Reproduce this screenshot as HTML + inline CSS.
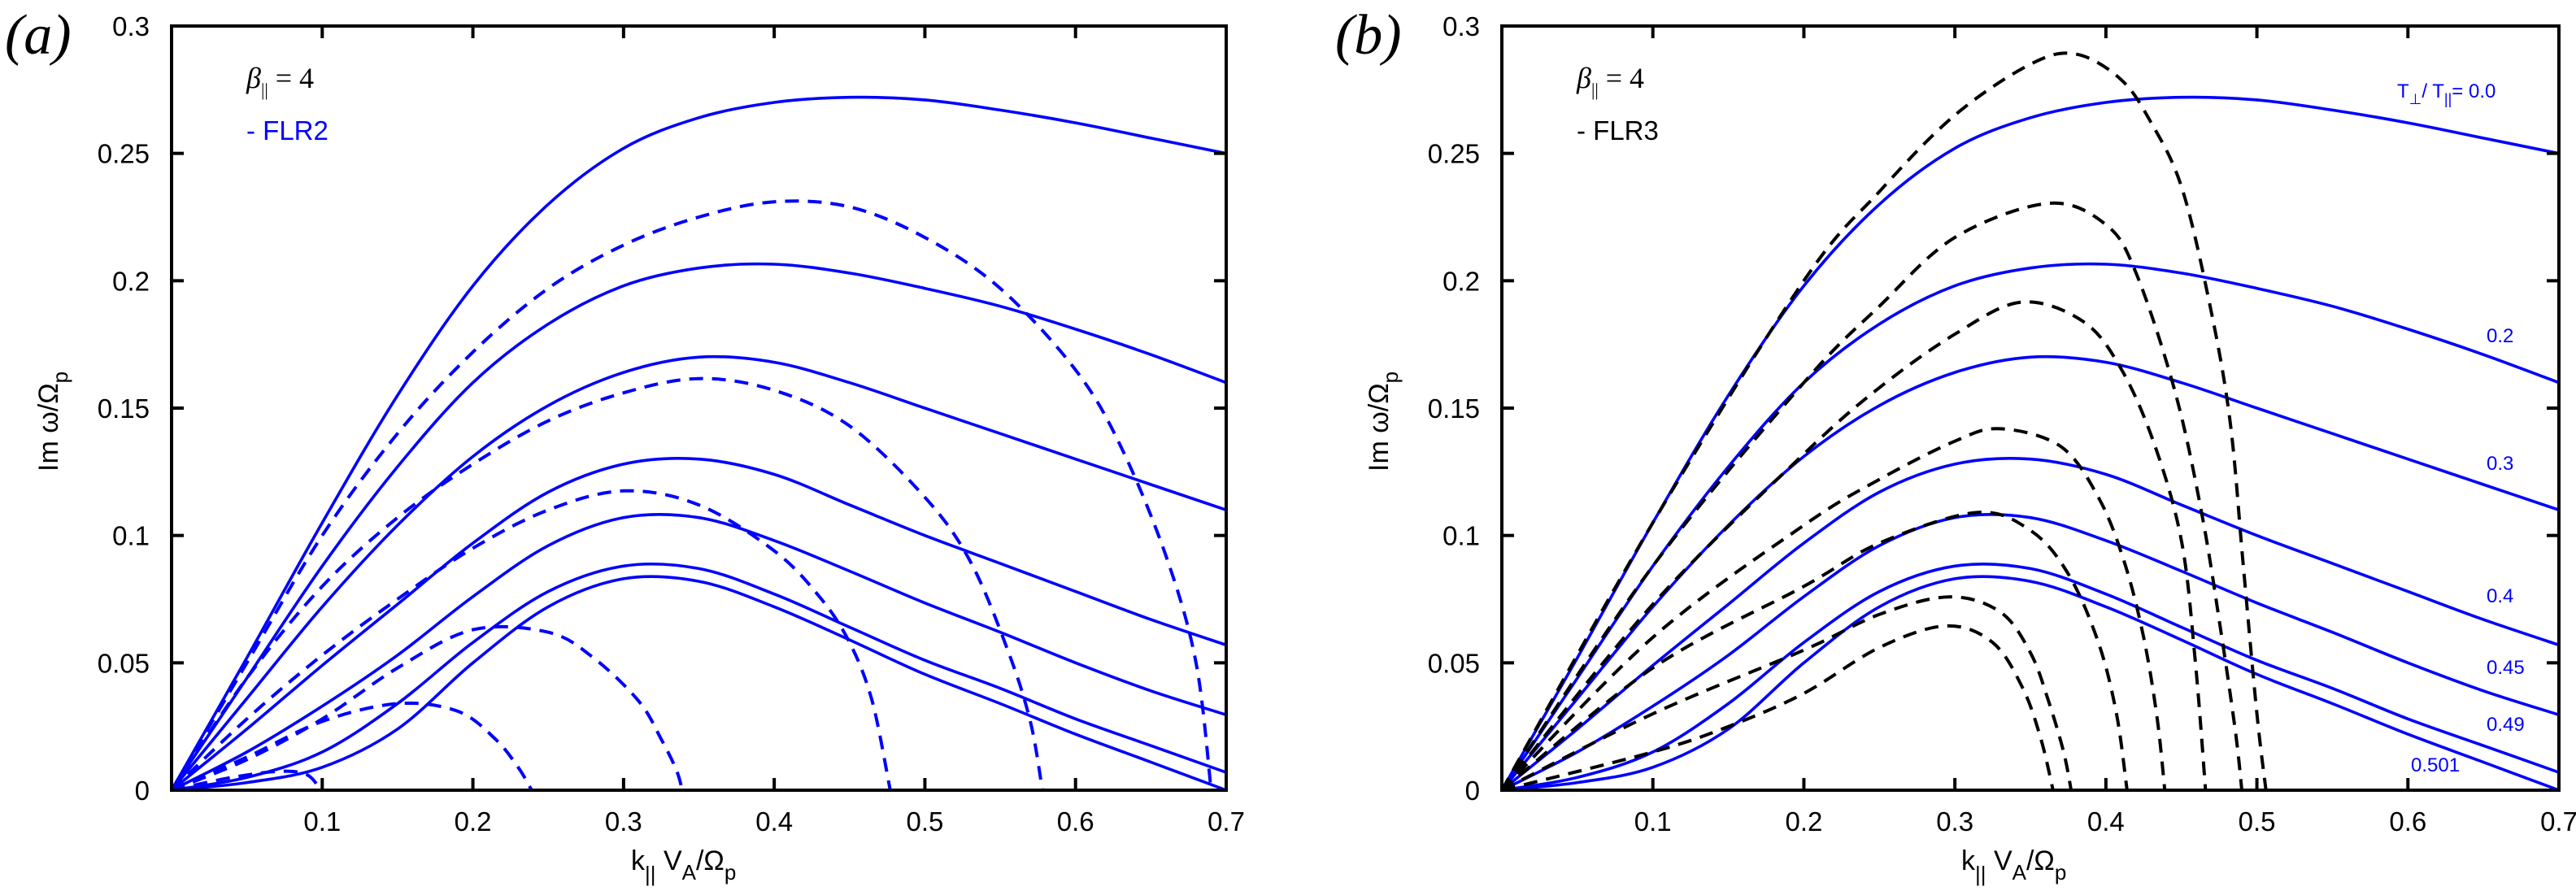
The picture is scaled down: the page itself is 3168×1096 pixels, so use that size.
<!DOCTYPE html>
<html><head><meta charset="utf-8"><style>
html,body{margin:0;padding:0;background:#fff;}
svg{display:block;}
.tk{font-family:"Liberation Sans Narrow","Liberation Sans",sans-serif;font-size:33px;fill:#000;}
.ttl{font-family:"Liberation Sans Narrow","Liberation Sans",sans-serif;font-size:34px;fill:#000;}
.lab{font-family:"Liberation Sans Narrow","Liberation Sans",sans-serif;font-size:24px;fill:#0000ff;}
.serif{font-family:"Liberation Serif",serif;font-style:italic;}
</style></head><body>
<svg id="fig" width="3168" height="1096" viewBox="0 0 3168 1096" xmlns="http://www.w3.org/2000/svg">
<g id="pa"></g>
<g id="pb"></g>
</svg>
<script>
const kGrid = [0,0.05,0.1,0.15,0.2,0.25,0.3,0.35,0.4,0.45,0.5,0.55,0.6,0.65,0.7];
const solidT00 = [0,0.052,0.105,0.155,0.198,0.230,0.252,0.264,0.270,0.272,0.271,0.267,0.262,0.256,0.25];
const solidT02 = [0,0.044,0.088,0.127,0.16,0.183,0.198,0.205,0.2065,0.203,0.197,0.19,0.181,0.171,0.16];
const solidT03 = [0,0.036,0.072,0.104,0.131,0.151,0.164,0.17,0.168,0.16,0.15,0.14,0.13,0.12,0.11];
const solidT04 = [0,0.024,0.049,0.073,0.097,0.117,0.128,0.13,0.124,0.112,0.1,0.089,0.078,0.067,0.057];
const solidT045 = [0,0.015,0.033,0.053,0.076,0.096,0.107,0.107,0.098,0.086,0.0735,0.062,0.05,0.039,0.0296];
const solidT049 = [0,0.005,0.015,0.034,0.058,0.078,0.088,0.087,0.077,0.064,0.051,0.04,0.028,0.0175,0.007];
const solidT0501 = [0,0.003,0.009,0.024,0.05,0.072,0.083,0.082,0.072,0.059,0.0455,0.034,0.022,0.011,0];
const solidNames = ['0.0','0.2','0.3','0.4','0.45','0.49','0.501'];
const solidSeries = [solidT00,solidT02,solidT03,solidT04,solidT045,solidT049,solidT0501];

// FLR2 (panel a, blue dashed)
const flr2K1 = [0,0.05,0.1,0.15,0.2,0.25,0.3,0.35,0.4,0.45,0.5,0.55,0.6,0.63,0.66,0.68,0.69];
const flr2V1 = [0,0.05,0.1,0.14,0.172,0.197,0.214,0.225,0.231,0.229,0.217,0.197,0.165,0.135,0.092,0.05,0];
const flr2K2 = [0,0.05,0.1,0.15,0.2,0.25,0.3,0.35,0.4,0.45,0.5,0.53,0.555,0.57,0.578];
const flr2V2 = [0,0.044,0.08,0.107,0.128,0.145,0.156,0.1616,0.157,0.143,0.115,0.09,0.055,0.027,0];
const flr2K3 = [0,0.05,0.1,0.15,0.2,0.25,0.3,0.35,0.4,0.43,0.45,0.465,0.477];
const flr2V3 = [0,0.028,0.053,0.075,0.095,0.11,0.1175,0.112,0.094,0.076,0.058,0.035,0];
const flr2K4 = [0,0.05,0.1,0.15,0.2,0.25,0.28,0.31,0.325,0.335,0.339];
const flr2V4 = [0,0.012,0.028,0.048,0.063,0.062,0.052,0.035,0.02,0.008,0];
const flr2K5 = [0,0.05,0.1,0.15,0.19,0.215,0.23,0.239];
const flr2V5 = [0,0.013,0.027,0.034,0.031,0.02,0.009,0];
const flr2K6 = [0,0.04,0.072,0.09,0.099];
const flr2V6 = [0,0.005,0.0074,0.006,0];
const flr2K7 = [0,0.7];
const flr2V7 = [0,0];
const flr2K = [flr2K1,flr2K2,flr2K3,flr2K4,flr2K5,flr2K6,flr2K7];
const flr2V = [flr2V1,flr2V2,flr2V3,flr2V4,flr2V5,flr2V6,flr2V7];

// FLR3 (panel b, black dashed)
const flr3K1 = [0,0.1,0.2,0.25,0.3,0.35,0.38,0.41,0.43,0.45,0.468,0.482,0.491,0.5,0.506];
const flr3V1 = [0,0.105,0.2,0.235,0.265,0.285,0.289,0.279,0.262,0.237,0.193,0.146,0.088,0.03,0];
const flr3K2 = [0,0.1,0.2,0.25,0.3,0.362,0.4,0.42,0.446,0.464,0.477,0.486,0.49];
const flr3V2 = [0,0.088,0.16,0.19,0.217,0.2304,0.222,0.203,0.156,0.107,0.059,0.022,0];
const flr3K3 = [0,0.1,0.2,0.25,0.3,0.344,0.385,0.41,0.432,0.45,0.459,0.466];
const flr3V3 = [0,0.073,0.132,0.158,0.179,0.1916,0.184,0.1655,0.136,0.098,0.052,0];
const flr3K4 = [0,0.1,0.2,0.25,0.3,0.33,0.37,0.395,0.412,0.425,0.434,0.439];
const flr3V4 = [0,0.06,0.104,0.122,0.137,0.1419,0.135,0.115,0.09,0.06,0.028,0];
const flr3K5 = [0,0.1,0.2,0.25,0.314,0.35,0.375,0.395,0.407,0.414];
const flr3V5 = [0,0.048,0.08,0.097,0.109,0.102,0.085,0.058,0.03,0];
const flr3K6 = [0,0.1,0.2,0.25,0.296,0.33,0.35,0.362,0.372,0.377];
const flr3V6 = [0,0.03,0.055,0.069,0.0759,0.07,0.054,0.035,0.015,0];
const flr3K7 = [0,0.1,0.15,0.2,0.25,0.294,0.325,0.345,0.357,0.365];
const flr3V7 = [0,0.015,0.025,0.038,0.056,0.0645,0.058,0.04,0.02,0];
const flr3K = [flr3K1,flr3K2,flr3K3,flr3K4,flr3K5,flr3K6,flr3K7];
const flr3V = [flr3V1,flr3V2,flr3V3,flr3V4,flr3V5,flr3V6,flr3V7];

const xTicks = [0.1,0.2,0.3,0.4,0.5,0.6,0.7];
const xTickLabels = ['0.1','0.2','0.3','0.4','0.5','0.6','0.7'];
const yTicks = [0,0.05,0.1,0.15,0.2,0.25,0.3];
const yTickLabels = ['0','0.05','0.1','0.15','0.2','0.25','0.3'];
const curveLabelVals = [0.0,0.2,0.3,0.4,0.45,0.49,0.501];

const NS='http://www.w3.org/2000/svg';
function mk(tag, parent, attrs){const e=document.createElementNS(NS,tag);for(const k in attrs)e.setAttribute(k,attrs[k]);parent.appendChild(e);return e;}
function pathD(pts){
  let d='M'+pts[0][0].toFixed(1)+','+pts[0][1].toFixed(1);
  for(let i=0;i<pts.length-1;i++){
    const p0=pts[Math.max(0,i-1)],p1=pts[i],p2=pts[i+1],p3=pts[Math.min(pts.length-1,i+2)];
    const c1=[p1[0]+(p2[0]-p0[0])/6,p1[1]+(p2[1]-p0[1])/6];
    const c2=[p2[0]-(p3[0]-p1[0])/6,p2[1]-(p3[1]-p1[1])/6];
    d+=' C'+c1[0].toFixed(1)+','+c1[1].toFixed(1)+' '+c2[0].toFixed(1)+','+c2[1].toFixed(1)+' '+p2[0].toFixed(1)+','+p2[1].toFixed(1);
  }
  return d;
}
function panel(g, x0, x1, y0, y1, letter, flrText, flrColor, dk, dv, dcolor, labels){
  const X=k=>x0+k/0.7*(x1-x0), Y=v=>y1-v/0.3*(y1-y0);
  const clipId='clip'+letter;
  const defs=mk('defs',g,{});
  const cp=mk('clipPath',defs,{id:clipId});
  mk('rect',cp,{x:x0,y:y0-4,width:x1-x0,height:y1-y0+8});
  const curves=mk('g',g,{'clip-path':'url(#'+clipId+')'});
  
  
  solidSeries.forEach((s,i)=>{
    const p=mk('path',curves,{d:pathD(s.map((v,j)=>[X(kGrid[j]),Y(v)])),fill:'none',stroke:'#0000ff','stroke-width':3.6});
    
    
  });
  dk.forEach((ks,i)=>{
    const p=mk('path',curves,{d:pathD(ks.map((k,j)=>[X(k),Y(dv[i][j])])),fill:'none',stroke:dcolor,'stroke-width':4,'stroke-dasharray':'17 11'});
    
    
  });
  const fr=mk('rect',g,{x:x0,y:y0,width:x1-x0,height:y1-y0,fill:'none',stroke:'#000','stroke-width':4});
  
  
  xTicks.forEach((t,i)=>{
    mk('line',g,{x1:X(t),x2:X(t),y1:y1,y2:y1-15,stroke:'#000','stroke-width':4});
    mk('line',g,{x1:X(t),x2:X(t),y1:y0,y2:y0+15,stroke:'#000','stroke-width':4});
    const tx=mk('text',g,{x:X(t),y:1022,'text-anchor':'middle',class:'tk'});
    tx.textContent=xTickLabels[i];
    
    
  });
  yTicks.forEach((t,i)=>{
    mk('line',g,{x1:x0,x2:x0+15,y1:Y(t),y2:Y(t),stroke:'#000','stroke-width':4});
    mk('line',g,{x1:x1,x2:x1-15,y1:Y(t),y2:Y(t),stroke:'#000','stroke-width':4});
    const ty=mk('text',g,{x:x0-27,y:Y(t)+12,'text-anchor':'end',class:'tk'});
    ty.textContent=yTickLabels[i];
    
    
  });
  const xt=mk('text',g,{x:x0+565,y:1070,class:'ttl'});
  xt.innerHTML='k<tspan dy="14" font-size="26">||</tspan><tspan dy="-14"> V</tspan><tspan dy="12" font-size="26">A</tspan><tspan dy="-12">/Ω</tspan><tspan dy="12" font-size="26">p</tspan>';
  
  
  const yt=mk('text',g,{x:0,y:0,class:'ttl',transform:'translate('+(x0-140)+',580) rotate(-90)'});
  yt.innerHTML='Im  ω/Ω<tspan dy="12" font-size="26">p</tspan>';
  
  
  const pl=mk('text',g,{x:x0-205,y:66,class:'serif','font-size':70});
  pl.textContent='('+letter+')';
  
  
  const bt=mk('text',g,{x:x0+92,y:108,class:'serif','font-size':36});
  bt.innerHTML='β<tspan dy="10" font-size="22" font-style="normal">||</tspan><tspan dy="-10" font-style="normal"> = 4</tspan>';
  
  
  const ft=mk('text',g,{x:x0+92,y:172,class:'ttl',style:'fill:'+flrColor+';font-size:33px'});
  ft.textContent=flrText;
  
  
  if(labels){
    const pos=[[2948,120],[3058,421],[3058,578],[3058,741],[3058,829],[3058,899],[2965,949]];
    curveLabelVals.forEach((v,i)=>{
      const t=mk('text',g,{x:pos[i][0],y:pos[i][1],class:'lab'});
      if(i===0){t.innerHTML='T<tspan dy="8" font-size="18">⊥</tspan><tspan dy="-8">/ T</tspan><tspan dy="8" font-size="18">||</tspan><tspan dy="-8">= '+v.toFixed(1)+'</tspan>';}
      else t.textContent=String(v);
      
      
    });
  }
}
panel(document.getElementById('pa'),211,1508,32,972,'a','- FLR2','#0000ff',flr2K,flr2V,'#0000ff',false);
panel(document.getElementById('pb'),1847,3147,32,972,'b','- FLR3','#000000',flr3K,flr3V,'#000000',true);
</script>
</body></html>
